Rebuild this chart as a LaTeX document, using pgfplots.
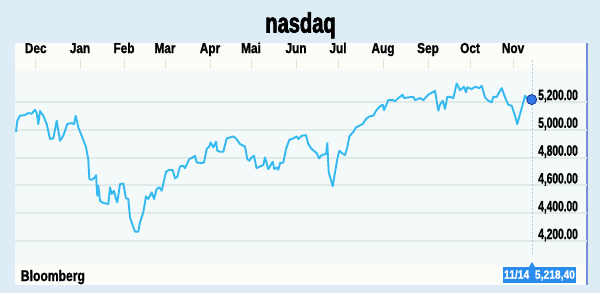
\documentclass[border=0pt]{standalone}
\usepackage{pgfplots}
\pgfplotsset{compat=1.18}
\usepackage{fontspec}
\setmainfont{Liberation Sans}
\newfontfamily\titlef[FakeStretch=0.72,FakeBold=2.5]{Liberation Sans}
\newfontfamily\monthf[FakeStretch=0.82,FakeBold=1.2]{Liberation Sans}
\newfontfamily\tickf[FakeStretch=0.68,FakeBold=1.2]{Liberation Sans}
\newfontfamily\bloomf[FakeStretch=0.79,FakeBold=1.2]{Liberation Sans}
\newfontfamily\boxf[FakeStretch=0.86,FakeBold=0.8]{Liberation Sans}
\definecolor{bgc}{RGB}{222,237,245}
\definecolor{panelc}{RGB}{252,252,249}
\definecolor{plotc}{RGB}{244,249,250}
\definecolor{gridc}{RGB}{224,235,233}
\definecolor{tickc}{RGB}{230,226,212}
\definecolor{linec}{RGB}{52,185,240}
\definecolor{markf}{RGB}{50,120,232}
\definecolor{markd}{RGB}{20,50,140}
\definecolor{boxc}{RGB}{42,140,236}
\definecolor{borderc}{RGB}{120,140,220}
\definecolor{vlinec}{RGB}{170,205,225}

\pgfplotstableread{
x y
16 4986
17.3 5066
20 5102
25 5107
28.3 5121
31.7 5116
35 5145
36.7 5121
38.3 5042
40 5136
43.3 5102
46.7 5042
50 4934
53.3 4939
56.7 5066
60 4922
63.3 4958
67.3 5042
71.7 5049
74 5042
75.7 5102
78.3 5018
81.7 4958
86 4874
88.3 4790
89.3 4646
91.7 4641
95 4659
96 4675
97.3 4526
98.3 4598
100 4490
103.3 4474
108.3 4467
110 4587
111.7 4539
114 4562
116 4502
117.3 4479
120 4610
123.3 4615
126 4508
128.3 4502
130 4371
133.3 4300
135 4268
138.3 4268
140 4335
143.3 4407
146 4522
148.3 4503
151.7 4551
154 4503
156.7 4575
159.3 4587
161.7 4562
166 4699
169.3 4713
172.7 4711
175 4651
177.3 4663
180 4737
183.3 4742
185 4725
189.3 4790
192.7 4802
195 4814
196.7 4766
201.7 4761
204 4766
206.7 4862
209.3 4881
210.7 4910
213.3 4874
216 4915
217.3 4850
220 4843
223.3 4843
226.7 4939
230 4946
233.3 4953
236 4939
240 4898
245 4881
247.3 4790
249.3 4778
251.7 4802
254 4814
256.5 4725
260 4737
263.3 4747
265 4802
268.3 4718
270.7 4747
272.7 4771
274.3 4718
276.7 4730
278.3 4713
280 4761
283.3 4766
286 4862
289.3 4929
293.3 4939
296.7 4953
298.3 4934
301.7 4958
306 4962
308.3 4898
311.7 4862
315 4843
316.7 4833
319 4795
321.7 4819
326 4826
327.3 4905
328.7 4694
330.7 4646
332.7 4594
335 4694
337.3 4790
339.3 4850
342 4833
345 4819
347.3 4874
349.3 4953
353.3 4986
356 5018
359.3 5030
362.7 5042
366 5078
369.3 5097
373.3 5102
376.7 5145
380.7 5174
382.7 5181
384 5142
388.3 5214
393.3 5214
395 5205
398.3 5229
402.7 5253
404 5229
408.3 5234
413.3 5238
415 5214
420 5229
423.3 5214
428.3 5253
435 5281
438.3 5138
440 5181
442.7 5210
445 5150
447.3 5238
450 5238
453.3 5229
456.7 5334
460 5286
464 5310
466 5270
467.3 5306
471.7 5294
475 5310
479.3 5301
481.7 5317
485 5234
488.3 5210
491.7 5198
493.3 5238
496.7 5238
501.7 5301
505 5234
508.3 5181
511.7 5174
515 5102
517.3 5042
520 5114
523.3 5198
525 5246
526.7 5229
531.7 5218
}\nasdaq

\begin{document}
\begin{tikzpicture}[x=1bp,y=1bp]
% background and panel (pixel y -> 293 - y)
\fill[bgc] (0,0) rectangle (600,293);
\fill[panelc] (15,8) rectangle (587,250);
\fill[plotc] (15,28) rectangle (587,223);
\draw[borderc, line width=1.2bp] (587,8) -- (587,250);
\node[font=\titlef\bfseries\fontsize{28}{28}\selectfont, anchor=base, inner sep=0pt] at (300.5,260.5) {nasdaq};
\node[font=\bloomf\bfseries\fontsize{15.4}{15.4}\selectfont, anchor=base west, inner sep=0pt] at (20.7,12) {Bloomberg};

\begin{axis}[
  at={(15,28)}, anchor=south west,
  scale only axis, width=572bp, height=195bp,
  xmin=15, xmax=587, ymin=4106.5, ymax=5509.4,
  axis line style={draw=none},
  xtick={35.7,80,124,165,210,251,296,338,383,428,470,513},
  xticklabels={Dec,Jan,Feb,Mar,Apr,Mai,Jun,Jul,Aug,Sep,Oct,Nov},
  xtick pos=upper, xticklabel pos=upper,
  tick align=inside,
  major tick length=9bp,
  xtick style={draw=tickc, line width=1bp},
  xticklabel style={font=\monthf\bfseries\fontsize{14.5}{14.5}\selectfont, anchor=base, inner sep=0pt, yshift=6bp},
  ytick={4200,4400,4600,4800,5000,5200},
  yticklabels={{4,200.00},{4,400.00},{4,600.00},{4,800.00},{5,000.00},{5,200.00}},
  yticklabel pos=right,
  ytick style={draw=none},
  yticklabel style={font=\tickf\bfseries\fontsize{15}{15}\selectfont, anchor=base east, inner sep=0pt, xshift=-9bp, yshift=2bp},
  ymajorgrids,
  grid style={draw=gridc, line width=2bp},
  extra x ticks={532},
  extra x tick labels={},
  extra x tick style={grid=major, major tick length=0pt, major grid style={draw=vlinec, dotted, line width=1bp}},
  clip=false,
]
\addplot[linec, line width=1.9bp, line join=round] table[x=x,y=y]{\nasdaq};
\addplot[only marks, mark=*, mark size=5bp, mark options={fill=markf, draw=markd, line width=0.8bp}] coordinates {(531.7,5218)};
\end{axis}
\fill[boxc] (529,26) -- (535,26) -- (532,31) -- cycle;
\node[fill=boxc, text=white, minimum width=73bp, minimum height=16bp, inner sep=0pt, font=\boxf\bfseries\fontsize{12}{12}\selectfont] at (539.5,17.7) {11/14\ \ 5,218,40};
\end{tikzpicture}
\end{document}
